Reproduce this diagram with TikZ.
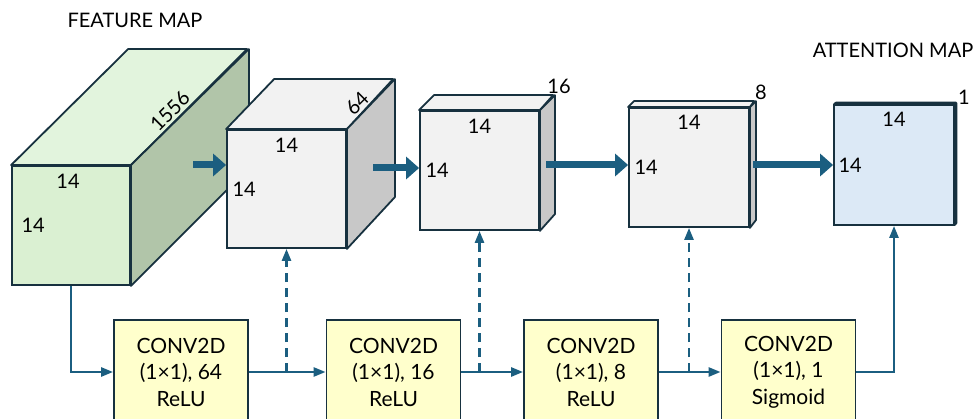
\documentclass[tikz,border=0pt]{standalone}
\usepackage{fontspec}
\setmainfont{Lato}
\usetikzlibrary{positioning,arrows.meta}

\definecolor{edgecol}{HTML}{17313F}
\definecolor{flowcol}{HTML}{1B5E80}
\definecolor{greenfront}{HTML}{DAF0D2}
\definecolor{greentop}{HTML}{E2F4DD}
\definecolor{greenside}{HTML}{B1C5A9}
\definecolor{grayfront}{HTML}{F2F2F2}
\definecolor{grayside}{HTML}{C8C8C8}
\definecolor{bluefront}{HTML}{DCE9F6}
\definecolor{convfill}{HTML}{FFFFCC}

\begin{document}
\begin{tikzpicture}[
            x=1pt, y=-1pt,
            font=\fontsize{20}{22}\selectfont,
            face/.style={draw=edgecol, line width=1.8pt, inner sep=0pt},
            shell/.style={draw=edgecol, line width=1.8pt, line join=round},
            convbox/.style={draw=edgecol, line width=1.8pt, fill=convfill,
                minimum width=134pt, minimum height=104pt, align=center,
                font=\fontsize{21}{26.5}\selectfont},
            bigarrow/.style={draw=flowcol, line width=7pt,
                -{Triangle[length=13pt,width=22pt]}},
            flow/.style={draw=flowcol, line width=2.5pt,
                -{Triangle[length=12pt,width=9pt]}},
            branch/.style={flow, dash pattern=on 9pt off 6pt}
        ]
        \clip (0,0) rectangle (973,419);
        \useasboundingbox (0,0) rectangle (973,419);

        % feature map
        \node[face, fill=greenfront, minimum width=118pt, minimum height=119pt] (fm) at (71,225.5) {};
        \filldraw[shell, fill=greentop] (fm.north west) -- ++(117,-116) -- ++(119,0) -- (fm.north east) -- cycle;
        \filldraw[shell, fill=greenside] (fm.north east) -- ++(118,-116) -- ++(0,119) -- (fm.south east) -- cycle;
        \node[below=6pt of fm.north, xshift=-3pt] {14};
        \node[right=7pt of fm.west] {14};
        \node[rotate=45] at (170,111) {1556};
        \node at (135,20) {FEATURE MAP};

        % conv block 1 output
        \node[face, fill=grayfront, minimum width=119pt, minimum height=118pt] (c2) at (286.5,189) {};
        \filldraw[shell, fill=grayfront] (c2.north west) -- ++(48,-50) -- ++(119,0) -- (c2.north east) -- cycle;
        \filldraw[shell, fill=grayside] (c2.north east) -- ++(48,-50) -- ++(0,118) -- (c2.south east) -- cycle;
        \node[below=6pt of c2.north] {14};
        \node[right=3pt of c2.west] {14};
        \node[rotate=45] at (357,103) {64};

        % conv block 2 output
        \node[face, fill=grayfront, minimum width=119pt, minimum height=119pt] (c3) at (479.5,170.5) {};
        \filldraw[shell, fill=grayfront] (c3.north west) -- ++(15,-15) -- ++(119,0) -- (c3.north east) -- cycle;
        \filldraw[shell, fill=grayside] (c3.north east) -- ++(15,-15) -- ++(0,119) -- (c3.south east) -- cycle;
        \node[below=6pt of c3.north] {14};
        \node[right=3pt of c3.west] {14};
        \node at (559,86) {16};

        % conv block 3 output
        \node[face, fill=grayfront, minimum width=120pt, minimum height=119pt] (c4) at (689,167.5) {};
        \filldraw[shell, fill=grayfront] (c4.north west) -- ++(6,-6) -- ++(120,0) -- (c4.north east) -- cycle;
        \filldraw[shell, fill=grayside] (c4.north east) -- ++(6,-6) -- ++(0,119) -- (c4.south east) -- cycle;
        \node[below=5pt of c4.north] {14};
        \node[right=3pt of c4.west] {14};
        \node at (761,92) {8};

        % attention map
        \filldraw[shell, line width=2.6pt, fill=edgecol] (834,105) -- ++(2,-2) -- ++(120,0) -- ++(0,120) -- ++(-2,2) -- cycle;
        \node[face, fill=bluefront, minimum width=120pt, minimum height=120pt] (c5) at (894,165) {};
        \node[below=5pt of c5.north] {14};
        \node[right=2pt of c5.west] {14};
        \node at (964,97) {1};
        \node at (893,50) {ATTENTION MAP};

        % thick arrows between maps
        \coordinate (a1) at (193,165);
        \coordinate (a2) at (373,168);
        \coordinate (a3) at (546,165);
        \coordinate (a4) at (753,165);
        \draw[bigarrow] (a1) -- (a1 -| c2.west);
        \draw[bigarrow] (a2) -- (a2 -| c3.west);
        \draw[bigarrow] (a3) -- (a3 -| c4.west);
        \draw[bigarrow] (a4) -- (a4 -| c5.west);

        % conv layers
        \node[convbox] (cv1) at (181,372) {CONV2D\\(1×1), 64\\ReLU};
        \node[convbox] (cv2) at (393.5,372) {CONV2D\\(1×1), 16\\ReLU};
        \node[convbox] (cv3) at (591,372) {CONV2D\\(1×1), 8\\ReLU};
        \node[convbox] (cv4) at (788.5,372) {CONV2D\\(1×1), 1\\Sigmoid};

        \draw[flow] (fm.south) |- (cv1.west);
        \draw[flow] (cv1.east) -- (cv2.west);
        \draw[flow] (cv2.east) -- (cv3.west);
        \draw[flow] (cv3.east) -- (cv4.west);
        \draw[flow] (cv4.east) -| (c5.south);
        \draw[branch] (cv1.east -| c2.south) -- (c2.south);
        \draw[branch] (cv2.east -| c3.south) -- (c3.south);
        \draw[branch] (cv3.east -| c4.south) -- (c4.south);
        \end{tikzpicture}
\end{document}
